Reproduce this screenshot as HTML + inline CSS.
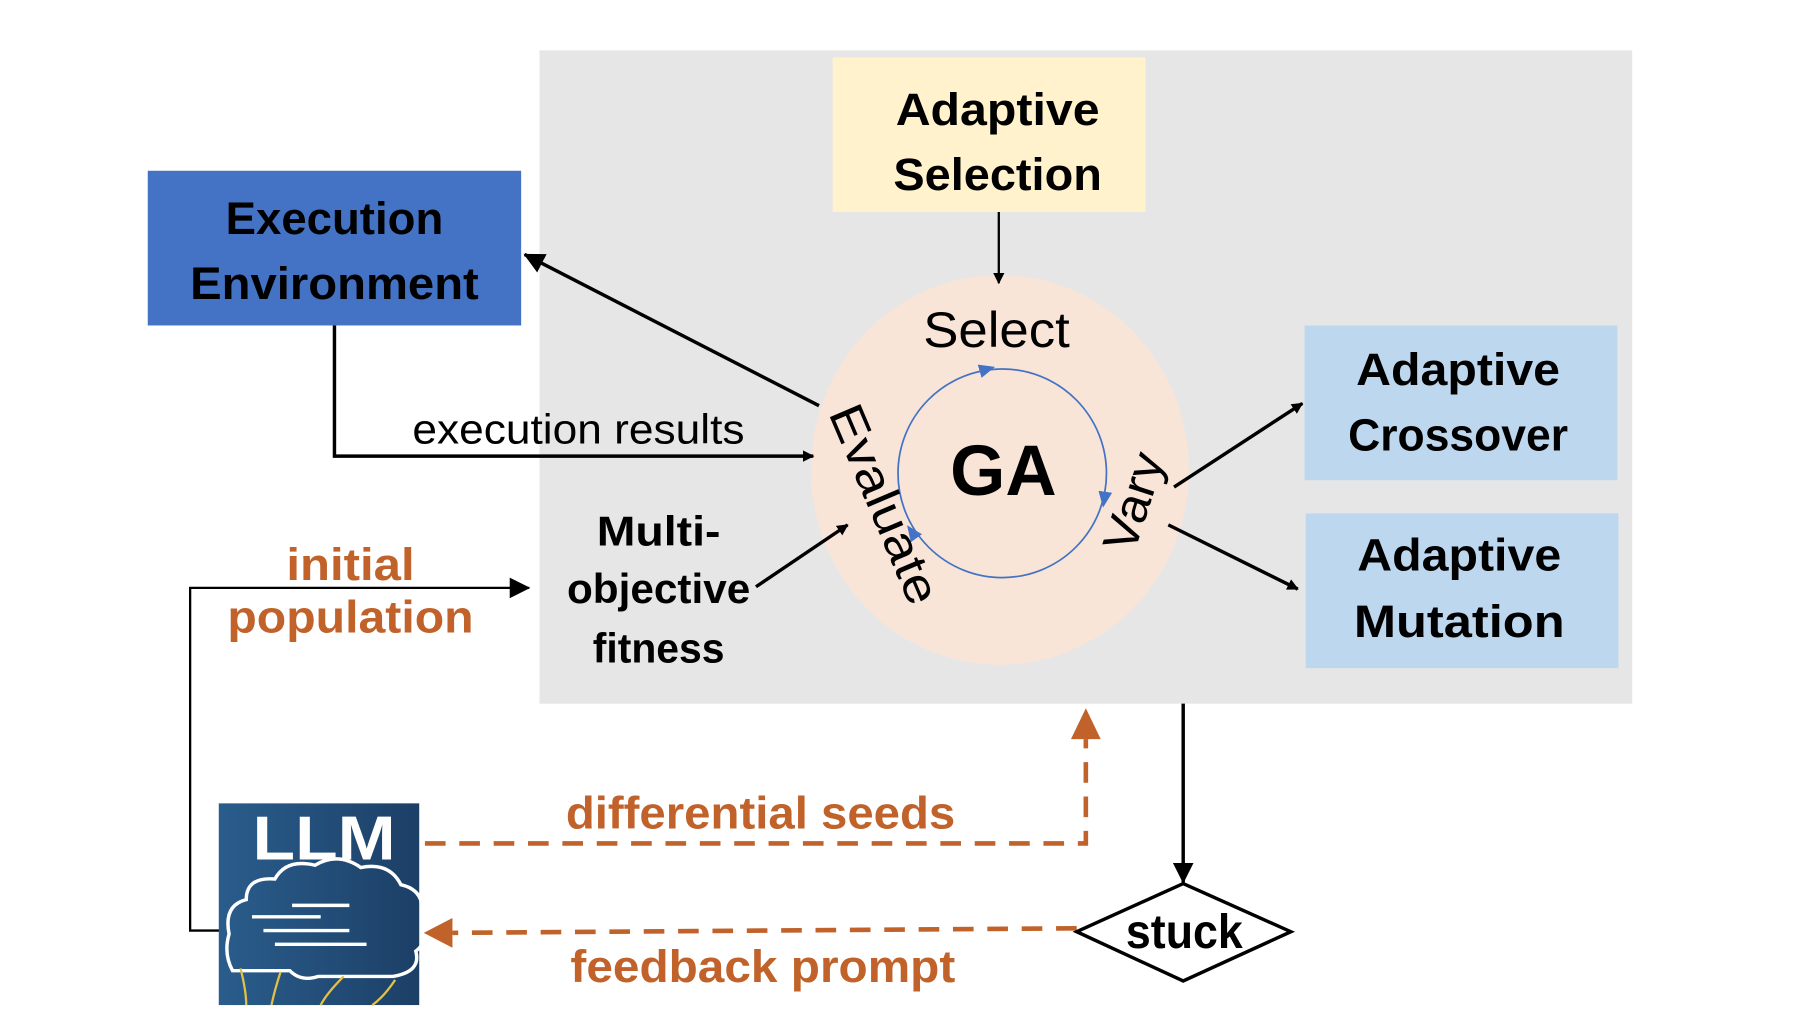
<!DOCTYPE html>
<html><head><meta charset="utf-8"><style>html,body{margin:0;padding:0;background:#fff}svg{display:block}</style></head>
<body>
<svg width="1796" height="1036" viewBox="0 0 1568 904" preserveAspectRatio="none" xmlns="http://www.w3.org/2000/svg" font-family="Liberation Sans, sans-serif">
<defs>
<marker id="ab" markerWidth="10" markerHeight="10" refX="9" refY="5" orient="auto" markerUnits="userSpaceOnUse"><path d="M0,0 L10,5 L0,10 z" fill="#000"/></marker>
<marker id="ab2" markerWidth="18" markerHeight="18" refX="17" refY="9" orient="auto" markerUnits="userSpaceOnUse"><path d="M0,0 L18,9 L0,18 z" fill="#000"/></marker>
<marker id="abb" markerWidth="14" markerHeight="14" refX="7" refY="7" orient="auto" markerUnits="userSpaceOnUse"><path d="M0,1 L14,7 L0,13 z" fill="#4472c4"/></marker>
<linearGradient id="lg" x1="0" x2="1"><stop offset="0" stop-color="#2a5d8c"/><stop offset="1" stop-color="#1c3f66"/></linearGradient>
</defs>
<g>
<rect x="471" y="44" width="954" height="570" fill="#e6e6e6"/>
<rect x="727" y="50" width="273" height="135" fill="#fff2cc"/>
<text font-weight="bold" font-size="40" text-anchor="middle" x="871" y="109" textLength="178" lengthAdjust="spacingAndGlyphs">Adaptive</text>
<text font-weight="bold" font-size="40" text-anchor="middle" x="871" y="166" textLength="182" lengthAdjust="spacingAndGlyphs">Selection</text>
<rect x="129" y="149" width="326" height="135" fill="#4472c4"/>
<text font-weight="bold" font-size="40" text-anchor="middle" x="292" y="204" textLength="190" lengthAdjust="spacingAndGlyphs">Execution</text>
<text font-weight="bold" font-size="40" text-anchor="middle" x="292" y="261" textLength="252" lengthAdjust="spacingAndGlyphs">Environment</text>
<rect x="1139" y="284" width="273" height="135" fill="#bdd7ee"/>
<text font-weight="bold" font-size="40" text-anchor="middle" x="1273" y="336" textLength="178" lengthAdjust="spacingAndGlyphs">Adaptive</text>
<text font-weight="bold" font-size="40" text-anchor="middle" x="1273" y="393" textLength="192" lengthAdjust="spacingAndGlyphs">Crossover</text>
<rect x="1140" y="448" width="273" height="135" fill="#bdd7ee"/>
<text font-weight="bold" font-size="40" text-anchor="middle" x="1274" y="498" textLength="178" lengthAdjust="spacingAndGlyphs">Adaptive</text>
<text font-weight="bold" font-size="40" text-anchor="middle" x="1274" y="556" textLength="184" lengthAdjust="spacingAndGlyphs">Mutation</text>
<ellipse cx="873" cy="410" rx="165" ry="170" fill="#f8e5d8"/>
<circle cx="875" cy="413" r="91" fill="none" stroke="#4472c4" stroke-width="1.5"/>
<path d="M848,326 L862,322" fill="none" marker-end="url(#abb)"/>
<path d="M966,422 L964,436" fill="none" marker-end="url(#abb)"/>
<path d="M806,478 L796,464" fill="none" marker-end="url(#abb)"/>
<text font-size="44" text-anchor="middle" x="870" y="303" textLength="128" lengthAdjust="spacingAndGlyphs">Select</text>
<text font-weight="bold" font-size="62" text-anchor="middle" x="876" y="432">GA</text>
<text font-size="42" text-anchor="middle" transform="translate(772,440) rotate(67)" y="14" textLength="185" lengthAdjust="spacingAndGlyphs">Evaluate</text>
<text font-size="42" text-anchor="middle" transform="translate(990,438) rotate(-72)" y="14" textLength="88" lengthAdjust="spacingAndGlyphs">Vary</text>
<line x1="872" y1="185" x2="872" y2="247" stroke="#000" stroke-width="2" marker-end="url(#ab)"/>
<line x1="715" y1="354" x2="458" y2="222" stroke="#000" stroke-width="3" marker-end="url(#ab2)"/>
<polyline points="292,284 292,398 710,398" fill="none" stroke="#000" stroke-width="3" marker-end="url(#ab)"/>
<text font-size="36" text-anchor="middle" x="505" y="387" textLength="290" lengthAdjust="spacingAndGlyphs">execution results</text>
<text font-weight="bold" font-size="36" text-anchor="middle" x="575" y="476" textLength="108" lengthAdjust="spacingAndGlyphs">Multi-</text>
<text font-weight="bold" font-size="36" text-anchor="middle" x="575" y="526" textLength="160" lengthAdjust="spacingAndGlyphs">objective</text>
<text font-weight="bold" font-size="36" text-anchor="middle" x="575" y="578" textLength="115" lengthAdjust="spacingAndGlyphs">fitness</text>
<line x1="660" y1="512" x2="740" y2="458" stroke="#000" stroke-width="3" marker-end="url(#ab)"/>
<line x1="1025" y1="425" x2="1137" y2="352" stroke="#000" stroke-width="3" marker-end="url(#ab)"/>
<line x1="1020" y1="458" x2="1133" y2="514" stroke="#000" stroke-width="3" marker-end="url(#ab)"/>
<text font-weight="bold" font-size="40" fill="#c0622a" text-anchor="middle" x="306" y="506" textLength="112" lengthAdjust="spacingAndGlyphs">initial</text>
<text font-weight="bold" font-size="40" fill="#c0622a" text-anchor="middle" x="306" y="552" textLength="215" lengthAdjust="spacingAndGlyphs">population</text>
<polyline points="192,812 166,812 166,513 462,513" fill="none" stroke="#000" stroke-width="2" marker-end="url(#ab2)"/>
<rect x="191" y="701" width="175" height="176" fill="url(#lg)"/>
<text font-weight="bold" font-size="54" fill="#fff" text-anchor="middle" x="283" y="750" textLength="125" lengthAdjust="spacingAndGlyphs">LLM</text>
<path d="M200,815 q-5,-25 15,-30 q0,-20 25,-18 q10,-18 35,-12 q20,-12 40,2 q25,-5 35,15 q22,5 18,28 q10,18 -5,30 q5,18 -20,22 l-65,0 q-15,5 -25,-5 l-50,0 q-8,-15 -3,-32z" fill="none" stroke="#fff" stroke-width="3"/>
<path d="M220,800 h60 M230,812 h75 M240,824 h80 M255,790 h50" stroke="#fff" stroke-width="3" fill="none"/>
<path d="M210,845 q5,20 5,32 M245,848 q-5,15 -8,29 M300,852 q-15,15 -20,25 M345,855 q-10,15 -20,22" stroke="#e0c04a" stroke-width="2" fill="none"/>
<polyline points="371,736 948,736 948,645" fill="none" stroke="#c0622a" stroke-width="4" stroke-dasharray="18,12"/>
<path d="M935,645 L948,618 L961,645 z" fill="#c0622a"/>
<text font-weight="bold" font-size="40" fill="#c0622a" text-anchor="middle" x="664" y="723" textLength="340" lengthAdjust="spacingAndGlyphs">differential seeds</text>
<line x1="940" y1="810" x2="395" y2="814" stroke="#c0622a" stroke-width="4" stroke-dasharray="18,12"/>
<path d="M395,801 L370,814 L395,827 z" fill="#c0622a"/>
<text font-weight="bold" font-size="40" fill="#c0622a" text-anchor="middle" x="666" y="857" textLength="336" lengthAdjust="spacingAndGlyphs">feedback prompt</text>
<line x1="1033" y1="614" x2="1033" y2="770" stroke="#000" stroke-width="3" marker-end="url(#ab2)"/>
<polygon points="940,813 1033,771 1127,813 1033,856" fill="#fff" stroke="#000" stroke-width="3"/>
<text font-weight="bold" font-size="42" text-anchor="middle" x="1034" y="827" textLength="102" lengthAdjust="spacingAndGlyphs">stuck</text>
</g>
</svg>
</body></html>
